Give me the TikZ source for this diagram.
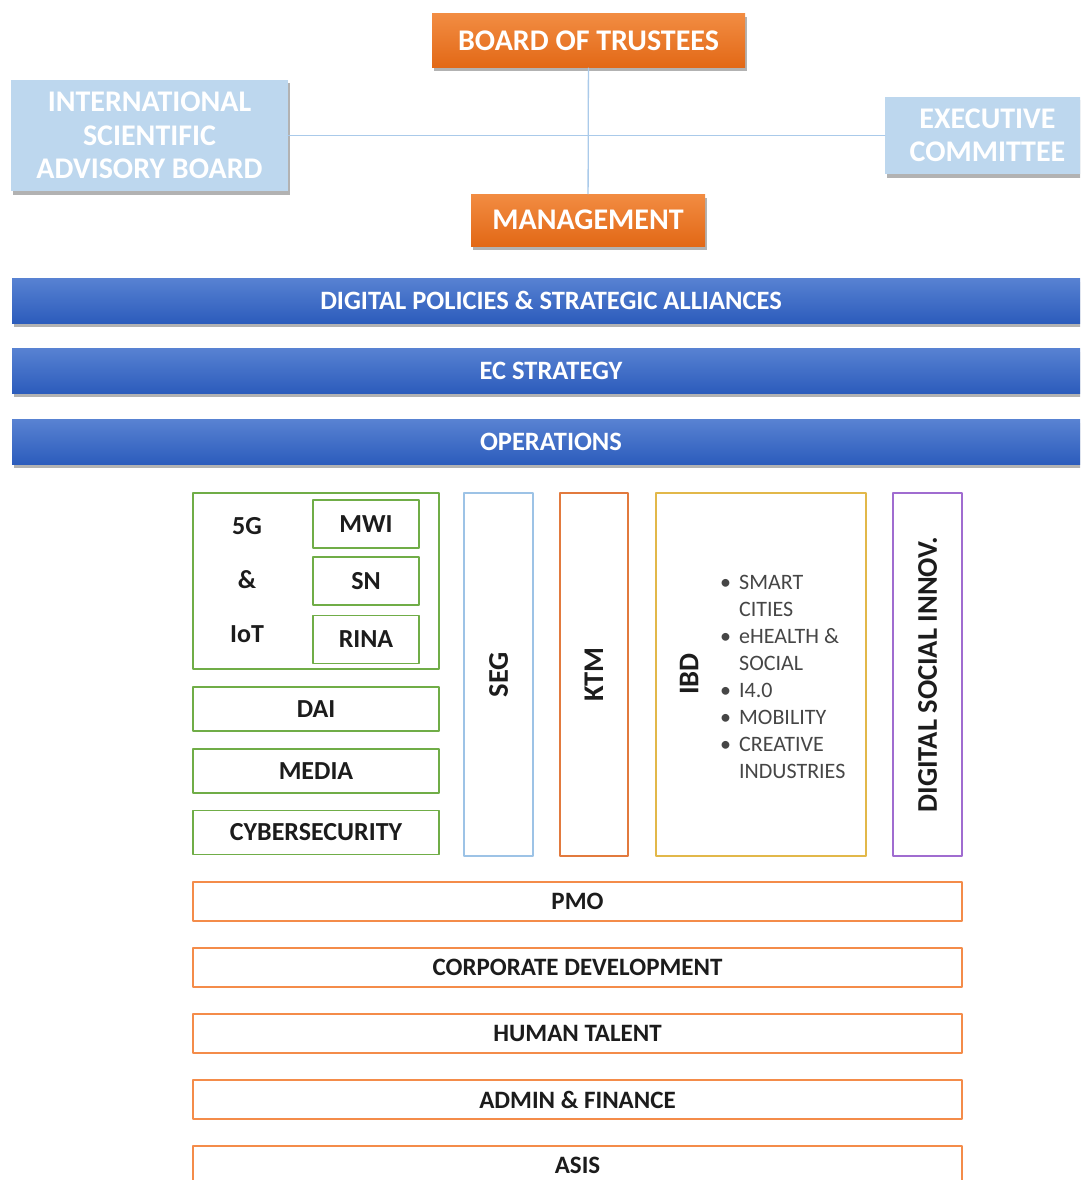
\documentclass[tikz,border=0pt]{standalone}
\usepackage{fontspec}
\setmainfont{Carlito}
\usetikzlibrary{shadows,positioning}
\definecolor{orgtop}{RGB}{242,140,66}
\definecolor{orgbot}{RGB}{226,104,22}
\definecolor{paleblue}{RGB}{189,215,238}
\definecolor{linkblue}{RGB}{170,202,234}
\definecolor{bartop}{RGB}{88,130,210}
\definecolor{barbot}{RGB}{44,92,188}
\definecolor{unitgreen}{RGB}{112,173,71}
\definecolor{segblue}{RGB}{157,195,230}
\definecolor{ktmorange}{RGB}{226,122,62}
\definecolor{ibdgold}{RGB}{226,184,74}
\definecolor{dsipurple}{RGB}{160,108,208}
\definecolor{suporange}{RGB}{244,140,74}
\definecolor{ink}{RGB}{28,28,28}
\definecolor{listgray}{RGB}{70,70,70}
\begin{document}
\begin{tikzpicture}[x=1pt, y=-1pt, line join=round, line cap=round,
  shade/.style={drop shadow={shadow xshift=2pt, shadow yshift=-3.5pt, opacity=0.6}},
  govbox/.style={shade, top color=orgtop, bottom color=orgbot, text=white, inner sep=0pt,
    font=\fontsize{30}{33}\selectfont\bfseries},
  advbox/.style={shade, fill=paleblue, text=white, inner sep=0pt, align=center,
    font=\fontsize{30}{33.5}\selectfont\bfseries},
  bandbox/.style={shade, top color=bartop, bottom color=barbot, text=white, inner sep=0pt,
    minimum width=1078, minimum height=45, font=\fontsize{26.5}{30}\selectfont\bfseries},
  unitbox/.style={draw=unitgreen, line width=1.5pt, text=ink, inner sep=0pt,
    font=\fontsize{26}{30}\selectfont\bfseries},
  colbox/.style={line width=1.5pt, text=ink, inner sep=0pt, rotate=90,
    minimum width=363, font=\fontsize{28.5}{30}\selectfont\bfseries},
  lab/.style={text=ink, inner sep=0pt, font=\fontsize{26}{30}\selectfont\bfseries},
  supbox/.style={draw=suporange, line width=1.5pt, text=ink, inner sep=0pt,
    minimum width=769, minimum height=39, font=\fontsize{25}{28}\selectfont\bfseries},
  link/.style={draw=linkblue, line width=1.3pt}]
\path[use as bounding box] (0,0) rectangle (1080,1180);
\fill[white] (0,0) rectangle (1080,1180);
\clip (0,0) rectangle (1080,1180);

% governance
\node[govbox, minimum width=313, minimum height=54] (trustees) at (588.5,41) {BOARD OF TRUSTEES};
\node[govbox, minimum width=234, minimum height=52] (mgmt) at (588,220) {MANAGEMENT};
\node[advbox, minimum width=277, minimum height=111] (isab) at (149.5,135.5) {INTERNATIONAL\\SCIENTIFIC\\ADVISORY BOARD};
\node[advbox, minimum width=205, minimum height=77] (exec) at (987.5,135.5) {EXECUTIVE\\COMMITTEE};
\draw[link] (trustees) -- (mgmt);
\draw[link] (isab) -- (exec);

% blue bands
\foreach \name/\y/\txt in {dpsa/300.5/DIGITAL POLICIES \& STRATEGIC ALLIANCES,
    ecs/370.5/EC STRATEGY, ops/442/OPERATIONS}
  \node[bandbox] (\name) at (551,\y) {\txt};

% green units
\node[unitbox, minimum width=246, minimum height=176] (iot) at (316,581) {};
\foreach \name/\y/\txt in {mwi/524/MWI, sn/581/SN, rina/639.5/RINA}
  \node[unitbox, minimum width=106, minimum height=48] (\name) at (366,\y) {\txt};
\foreach \name/\y/\txt in {fiveg/526/5G, amp/580/\&, iotlab/634/IoT}
  \node[lab] (\name) at (247,\y) {\txt};
\foreach \name/\y/\txt in {dai/709/DAI, media/771/MEDIA, cyber/832.5/CYBERSECURITY}
  \node[unitbox, minimum width=246, minimum height=44] (\name) at (316,\y) {\txt};

% columns
\node[colbox, draw=segblue, minimum height=69] (seg) at (498.5,674.5) {SEG};
\node[colbox, draw=ktmorange, minimum height=68] (ktm) at (594,674.5) {KTM};
\node[colbox, draw=ibdgold, minimum height=210] (ibd) at (761,674.5) {};
\node[colbox, minimum width=0] (ibdlab) at (689,674) {IBD};
\node[colbox, draw=dsipurple, minimum height=69] (dsi) at (927.5,674.5) {DIGITAL SOCIAL INNOV.};
\node[anchor=north west, inner sep=0pt, text=listgray, font=\fontsize{22}{27}\selectfont] (ibdlist) at (720,570)
  {\begin{tabular}{@{}l@{\hspace{8pt}}l@{}}
   \textbullet & SMART\\ & CITIES\\ \textbullet & eHEALTH \&\\ & SOCIAL\\
   \textbullet & I4.0\\ \textbullet & MOBILITY\\ \textbullet & CREATIVE\\ & INDUSTRIES
   \end{tabular}};

% support units
\foreach \name/\y/\txt in {pmo/901.5/PMO, corpdev/967.5/CORPORATE DEVELOPMENT,
    talent/1033.5/HUMAN TALENT, finance/1099.5/ADMIN \& FINANCE, asis/1165.5/ASIS}
  \node[supbox] (\name) at (577.5,\y) {\txt};
\end{tikzpicture}
\end{document}
